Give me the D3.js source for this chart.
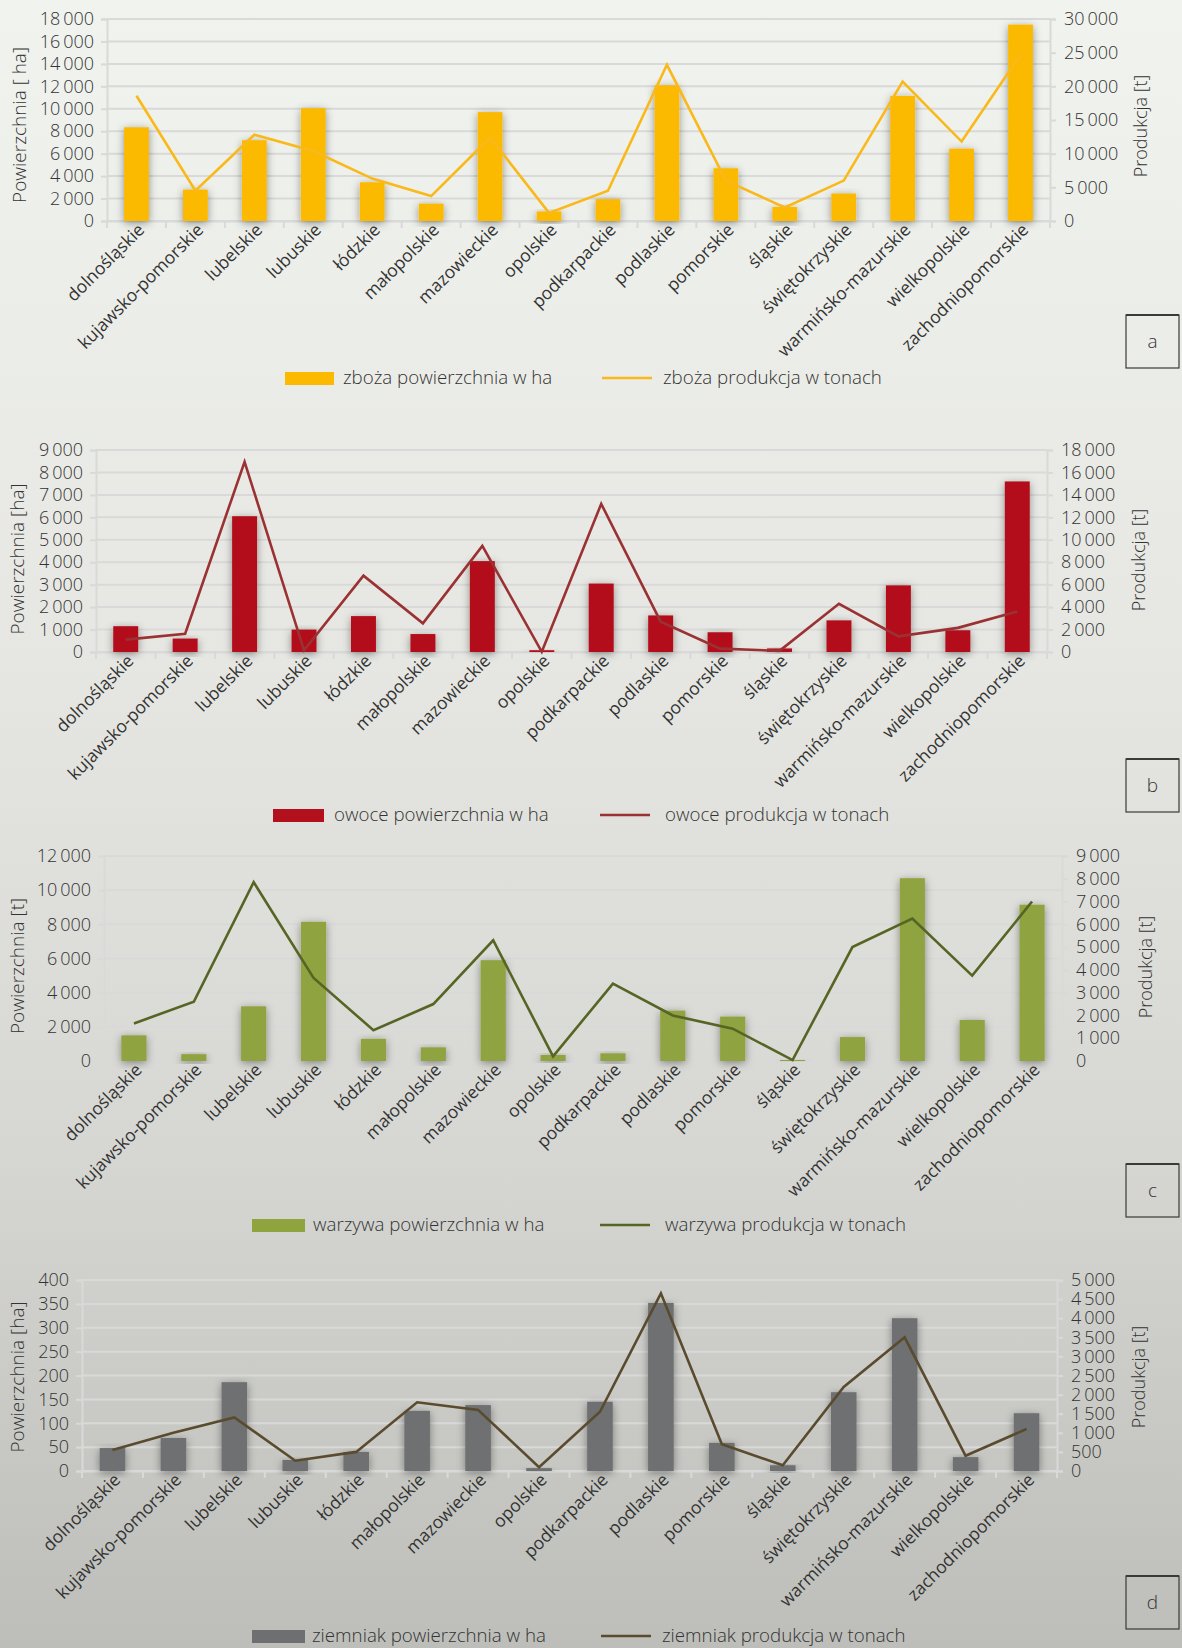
<!DOCTYPE html>
<html>
<head>
<meta charset="utf-8">
<script src="https://cdn.jsdelivr.net/npm/d3@7/dist/d3.min.js"></script>
<style>
body { margin: 0; }
svg text { font-family: "Open Sans", sans-serif; font-weight: 300; fill: #333; }
</style>
</head>
<body>
<svg width="1182" height="1648"></svg>
<script>
var regions = ["dolnośląskie", "kujawsko-pomorskie", "lubelskie", "lubuskie", "łódzkie", "małopolskie",
    "mazowieckie", "opolskie", "podkarpackie", "podlaskie", "pomorskie", "śląskie", "świętokrzyskie",
    "warmińsko-mazurskie", "wielkopolskie", "zachodniopomorskie"];

// zboża
var zbozaArea = [8350, 2800, 7200, 10050, 3450, 1550, 9700, 850, 1950, 12100, 4700, 1250, 2450, 11150, 6450, 17500];
var zbozaProd = [18600, 4500, 12800, 10400, 6300, 3700, 12400, 1200, 4500, 23200, 6000, 2000, 6000, 20700, 11800, 24700];
// owoce
var owoceArea = [1150, 600, 6050, 1000, 1600, 800, 4050, 80, 3050, 1630, 880, 160, 1410, 2970, 970, 7600];
var owoceProd = [1100, 1630, 16950, 150, 6800, 2550, 9450, 20, 13200, 2700, 300, 100, 4300, 1400, 2150, 3600];
// warzywa
var warzywaArea = [1500, 400, 3200, 8150, 1300, 800, 5900, 350, 450, 2950, 2600, 60, 1400, 10700, 2400, 9150];
var warzywaProd = [1650, 2600, 7850, 3650, 1350, 2500, 5300, 200, 3400, 2000, 1420, 40, 5000, 6250, 3750, 7000];
// ziemniak
var ziemniakArea = [48, 69, 186, 23, 40, 126, 138, 6, 145, 352, 59, 12, 165, 320, 29, 121];
var ziemniakProd = [550, 1000, 1400, 270, 500, 1800, 1600, 100, 1550, 4650, 700, 150, 2200, 3500, 400, 1100];

var leftTicks = [18000, 9000, 12000, 400];
var leftSteps = [2000, 1000, 2000, 50];
var rightTicks = [30000, 18000, 9000, 5000];
var rightSteps = [5000, 2000, 1000, 500];

var panels = [
    {area: zbozaArea, prod: zbozaProd, barColor: "#fbb900", lineColor: "#f9b91a",
     leftTitle: "Powierzchnia [ ha]", rightTitle: "Produkcja [t]",
     legArea: "zboża powierzchnia w ha", legProd: "zboża produkcja w tonach", letter: "a",
     x0: 107, x1: 1050, y0: 19, y1: 221, ltx: 19, lty: 125, rtx: 1140, rty: 126,
     legY: 378, rectX: 285, rectW: 49, textX: 343, lineX: 602, text2X: 663, boxY: 315},
    {area: owoceArea, prod: owoceProd, barColor: "#b3101e", lineColor: "#9a3233",
     leftTitle: "Powierzchnia [ha]", rightTitle: "Produkcja [t]",
     legArea: "owoce powierzchnia w ha", legProd: "owoce produkcja w tonach", letter: "b",
     x0: 96, x1: 1047, y0: 450, y1: 652, ltx: 17, lty: 559, rtx: 1138, rty: 560,
     legY: 815, rectX: 273, rectW: 51, textX: 334, lineX: 600, text2X: 665, boxY: 759},
    {area: warzywaArea, prod: warzywaProd, barColor: "#8fa33f", lineColor: "#566524",
     leftTitle: "Powierzchnia [t]", rightTitle: "Produkcja [t]",
     legArea: "warzywa powierzchnia w ha", legProd: "warzywa produkcja w tonach", letter: "c",
     x0: 104, x1: 1062, y0: 856, y1: 1061, ltx: 17, lty: 966, rtx: 1145, rty: 967,
     legY: 1225, rectX: 252, rectW: 53, textX: 313, lineX: 600, text2X: 665, boxY: 1164},
    {area: ziemniakArea, prod: ziemniakProd, barColor: "#6e6f71", lineColor: "#5a4b2f",
     leftTitle: "Powierzchnia  [ha]", rightTitle: "Produkcja  [t]",
     legArea: "ziemniak powierzchnia w ha", legProd: "ziemniak produkcja w tonach", letter: "d",
     x0: 82, x1: 1057, y0: 1280, y1: 1471, ltx: 17, lty: 1377, rtx: 1138, rty: 1377,
     legY: 1636, rectX: 252, rectW: 53, textX: 312, lineX: 601, text2X: 662, boxY: 1576}
];

var svg = d3.select("svg");
var defs = svg.append("defs");

var bg = defs.append("linearGradient").attr("id", "bg")
    .attr("x1", 0).attr("y1", 0).attr("x2", 0).attr("y2", 1);
bg.append("stop").attr("offset", "0%").attr("stop-color", "#f1f3ee");
bg.append("stop").attr("offset", "40%").attr("stop-color", "#e6e7e2");
bg.append("stop").attr("offset", "70%").attr("stop-color", "#d6d7d3");
bg.append("stop").attr("offset", "100%").attr("stop-color", "#bdbeb9");

defs.append("filter").attr("id", "shadow")
    .attr("x", "-60%").attr("y", "-20%").attr("width", "220%").attr("height", "150%")
  .append("feDropShadow")
    .attr("dx", 0).attr("dy", 2).attr("stdDeviation", 4)
    .attr("flood-color", "#000").attr("flood-opacity", 0.4);

svg.append("rect").attr("width", 1182).attr("height", 1648).attr("fill", "url(#bg)");

var fmt = function (v) {
    return d3.format(",")(v).replace(/,/g, "\u2009");
};

var gridColor = "#d9d9d9";

panels.forEach(function (p, i) {
    var g = svg.append("g");

    var x = d3.scaleBand().domain(regions).range([p.x0, p.x1]).paddingInner(0.58).paddingOuter(0.29);
    var xc = d3.scaleBand().domain(regions).range([p.x0, p.x1]);
    var yL = d3.scaleLinear().domain([0, leftTicks[i]]).range([p.y1, p.y0]);
    var yR = d3.scaleLinear().domain([0, rightTicks[i]]).range([p.y1, p.y0]);

    var lt = d3.range(0, leftTicks[i] + 1, leftSteps[i]);
    var rt = d3.range(0, rightTicks[i] + 1, rightSteps[i]);

    // grid
    g.selectAll(".grid").data(lt).enter().append("line")
        .attr("x1", p.x0).attr("x2", p.x1)
        .attr("y1", function (d) { return yL(d); })
        .attr("y2", function (d) { return yL(d); })
        .attr("stroke", gridColor).attr("stroke-width", 2);

    var axL = g.append("g").attr("transform", "translate(" + p.x0 + ",0)")
        .call(d3.axisLeft(yL).tickValues(lt).tickFormat(fmt).tickSize(6).tickPadding(7));
    var axR = g.append("g").attr("transform", "translate(" + p.x1 + ",0)")
        .call(d3.axisRight(yR).tickValues(rt).tickFormat(fmt).tickSize(6).tickPadding(8));
    var axB = g.append("g").attr("transform", "translate(0," + p.y1 + ")")
        .call(d3.axisBottom(xc).tickSize(0).tickFormat(""));

    [axL, axR, axB].forEach(function (ax) {
        ax.select(".domain").attr("stroke", gridColor).attr("stroke-width", 2);
        ax.selectAll(".tick line").attr("stroke", gridColor).attr("stroke-width", 2);
        ax.selectAll(".tick text").style("font-size", "18px").attr("fill", "#333");
    });

    // bottom ticks at band edges
    g.selectAll(".btick").data(d3.range(regions.length + 1)).enter().append("line")
        .attr("x1", function (d) { return p.x0 + d * xc.step(); })
        .attr("x2", function (d) { return p.x0 + d * xc.step(); })
        .attr("y1", p.y1).attr("y2", p.y1 + 7)
        .attr("stroke", gridColor).attr("stroke-width", 2);

    // bars
    g.selectAll(".bar").data(p.area).enter().append("rect")
        .attr("x", function (d, j) { return x(regions[j]); })
        .attr("width", x.bandwidth())
        .attr("y", function (d) { return yL(d); })
        .attr("height", function (d) { return p.y1 - yL(d); })
        .attr("fill", p.barColor)
        .attr("filter", "url(#shadow)");

    // line
    var line = d3.line()
        .x(function (d, j) { return xc(regions[j]) + xc.bandwidth() / 2; })
        .y(function (d) { return yR(d); });
    g.append("path").datum(p.prod)
        .attr("d", line)
        .attr("fill", "none")
        .attr("stroke", p.lineColor)
        .attr("stroke-width", 2.6)
        .attr("stroke-linejoin", "miter");

    // category labels
    g.selectAll(".cat").data(regions).enter().append("text")
        .attr("transform", function (d) {
            return "translate(" + (xc(d) + xc.bandwidth() / 2 + 9) + "," + (p.y1 + 10) + ") rotate(-45)";
        })
        .attr("text-anchor", "end")
        .style("font-size", "17.5px")
        .style("font-weight", 400)
        .attr("fill", "#222")
        .text(function (d) { return d; });

    // axis titles
    g.append("text")
        .attr("transform", "translate(" + (p.ltx + 7) + "," + p.lty + ") rotate(-90)")
        .attr("text-anchor", "middle")
        .style("font-size", "19px")
        .text(p.leftTitle);
    g.append("text")
        .attr("transform", "translate(" + (p.rtx + 7) + "," + p.rty + ") rotate(-90)")
        .attr("text-anchor", "middle")
        .style("font-size", "18px")
        .text(p.rightTitle);

    // legend
    g.append("rect").attr("x", p.rectX).attr("y", p.legY - 6).attr("width", p.rectW).attr("height", 13)
        .attr("fill", p.barColor);
    g.append("text").attr("x", p.textX).attr("y", p.legY + 6)
        .style("font-size", "18.7px").text(p.legArea);
    g.append("line").attr("x1", p.lineX).attr("x2", p.lineX + 50)
        .attr("y1", p.legY).attr("y2", p.legY)
        .attr("stroke", p.lineColor).attr("stroke-width", 2.6);
    g.append("text").attr("x", p.text2X).attr("y", p.legY + 6)
        .style("font-size", "18.7px").text(p.legProd);

    // letter box
    g.append("rect").attr("x", 1126).attr("y", p.boxY).attr("width", 53).attr("height", 53)
        .attr("fill", "none").attr("stroke", "#3a3a3a").attr("stroke-width", 1.2);
    g.append("line").attr("x1", 1126).attr("x2", 1179).attr("y1", p.boxY).attr("y2", p.boxY)
        .attr("stroke", "#3a3a3a").attr("stroke-width", 2);
    g.append("text").attr("x", 1152.5).attr("y", p.boxY + 33)
        .attr("text-anchor", "middle").style("font-size", "19px").text(p.letter);
});
</script>
</body>
</html>
